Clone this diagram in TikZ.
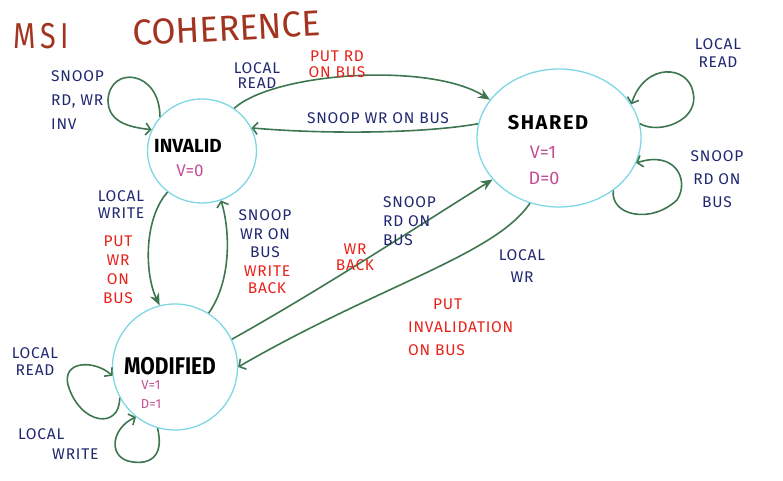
\documentclass[tikz,border=0pt]{standalone}
\usepackage{fontspec}
\setmainfont{Fira Sans}
\newfontfamily\hand[LetterSpace=5]{Fira Sans}
\newfontfamily\stfont{Fira Sans}
\newfontfamily\stwide[LetterSpace=8]{Fira Sans}
\usetikzlibrary{arrows.meta,shapes.geometric}
\definecolor{cyanc}{RGB}{125,215,228}
\definecolor{greenc}{RGB}{62,118,80}
\definecolor{navyc}{RGB}{32,40,112}
\definecolor{redc}{RGB}{232,34,26}
\definecolor{magc}{RGB}{196,78,150}
\definecolor{brownc}{RGB}{162,52,32}
\begin{document}
\begin{tikzpicture}[x=1pt,y=1pt,
  state/.style={draw=cyanc, line width=1.3pt, ellipse, inner sep=0pt},
  conn/.style={draw=greenc, line width=1.6pt},
  fillhead/.style={-{Stealth[length=12pt,width=10pt]}},
  openhead/.style={-{Straight Barb[length=5pt,width=12pt]}},
  lbl/.style={inner sep=0pt, align=center, font=\hand\fontsize{15.5}{#1}\selectfont},
  lbl/.default=18,
  nv/.style={lbl=#1, text=navyc},
  nv/.default=18,
  rd/.style={lbl=#1, text=redc},
  rd/.default=18,
  stname/.style={inner sep=0pt, text=black},
  bits/.style={inner sep=0pt, text=magc, font=\stfont\fontsize{#1}{#1}\selectfont},
  bits/.default=18,
  ttl/.style={inner sep=0pt, text=brownc, text height=26pt, text depth=0pt, font=\stfont\fontsize{36}{36}\selectfont, anchor=west}
]
\useasboundingbox (0,0) rectangle (783,-481);

% title
\node[ttl, xscale=0.8] (t1) at (13,-36) {M\hspace{6pt}S\hspace{5pt}I};
\node[ttl, xscale=0.97, rotate=3] (t2) at (133,-33) {COHERENCE};

% states
\node[state, minimum width=109pt, minimum height=104pt] (inv) at (202,-151) {};
\node[state, minimum width=164pt, minimum height=138pt] (sh) at (559,-138) {};
\node[state, minimum width=125pt, minimum height=126pt] (mod) at (175,-367) {};

\node[stname, font=\stfont\bfseries\fontsize{19}{19}\selectfont] (invT) at (188,-146) {INVALID};
\node[bits=17] (invB) at (190,-171) {V=0};
\node[stname, font=\stwide\bfseries\fontsize{20}{20}\selectfont] (shT) at (548,-123) {SHARED};
\node[bits=18] (shB1) at (543,-152) {V=1};
\node[bits=18] (shB2) at (544,-178) {D=0};
\node[stname, font=\stfont\bfseries\fontsize{21}{21}\selectfont, yscale=1.15] (modT) at (170,-366) {MODIFIED};
\node[bits=13] (modB1) at (151,-385) {V=1};
\node[bits=13] (modB2) at (151,-404) {D=1};

% connectors
\draw[conn, openhead] (inv.141) .. controls (160,-70) and (110,-65) .. (108,-100) .. controls (108,-120) and (125,-127) .. (inv.157);
\draw[conn, fillhead] (inv.53) .. controls (275,-72) and (430,-62) .. (sh.151);
\draw[conn, openhead] (sh.170) .. controls (420,-134) and (320,-134) .. (inv.25);
\draw[conn, openhead] (sh.10) .. controls (660,-135) and (700,-120) .. (693,-92) .. controls (688,-65) and (645,-62) .. (sh.25);
\draw[conn, openhead] (sh.-44) .. controls (610,-215) and (650,-225) .. (677,-200) .. controls (690,-180) and (675,-150) .. (sh.-18);
\draw[conn, fillhead] (inv.230) .. controls (143,-220) and (145,-275) .. (mod.104);
\draw[conn, openhead] (mod.58) .. controls (232,-280) and (230,-230) .. (inv.291);
\draw[conn, fillhead] (mod.26) .. controls (320,-290) and (420,-225) .. (sh.212);
\draw[conn, openhead] (sh.246) .. controls (495,-255) and (380,-285) .. (mod.0);
\draw[conn, openhead] (mod.209) .. controls (120,-430) and (80,-425) .. (68,-385) .. controls (62,-360) and (95,-360) .. (mod.188);
\draw[conn, openhead] (mod.254) .. controls (165,-458) and (148,-466) .. (128,-461) .. controls (108,-455) and (112,-428) .. (mod.232);

% labels
\node[nv=24, align=left, anchor=west] (l1) at (51,-100) {SNOOP\\RD, WR\\INV};
\node[nv=15] (l2) at (257,-76) {LOCAL\\READ};
\node[rd=16] (l3) at (337,-64) {PUT RD\\ON BUS};
\node[nv] (l4) at (378,-118) {SNOOP WR ON BUS};
\node[nv=18] (l5) at (718,-53) {LOCAL\\READ};
\node[nv=23] (l6) at (717,-179) {SNOOP\\RD ON\\BUS};
\node[nv=17] (l7) at (121,-205) {LOCAL\\WRITE};
\node[rd=19] (l8) at (118,-270) {PUT\\WR\\ON\\BUS};
\node[nv=18.5] (l9) at (265,-234) {SNOOP\\WR ON\\BUS};
\node[rd=17] (l10) at (267,-280) {WRITE\\BACK};
\node[nv=19, align=left, anchor=west] (l11) at (383,-221) {SNOOP\\RD ON\\BUS};
\node[rd=16] (l12) at (355,-257) {WR\\BACK};
\node[nv=22] (l13) at (522,-266) {LOCAL\\WR};
\node[rd=23, align=left, anchor=west] (l14) at (408,-327) {\hspace*{25pt}PUT\\INVALIDATION\\ON BUS};
\node[nv=17] (l15) at (35,-362) {LOCAL\\READ};
\node[nv=20, align=left, anchor=west] (l16) at (18,-444) {LOCAL\\\hspace*{34pt}WRITE};
\end{tikzpicture}
\end{document}
